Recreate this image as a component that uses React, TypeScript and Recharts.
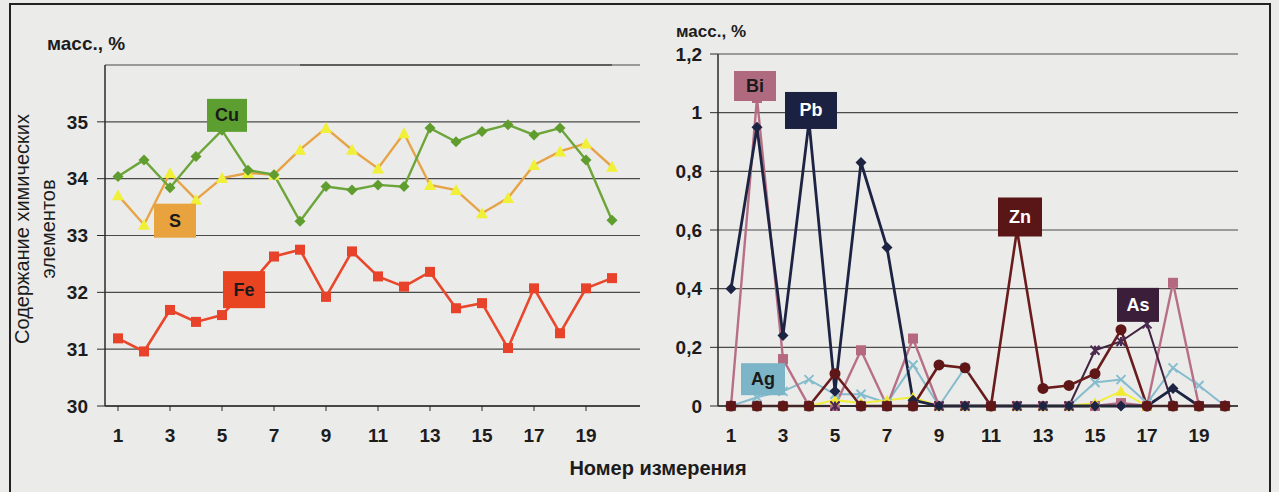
import React from "react";
import {
  LineChart,
  Line,
  XAxis,
  YAxis,
  CartesianGrid,
  ReferenceLine,
  LabelList,
} from "recharts";

const points = [1, 2, 3, 4, 5, 6, 7, 8, 9, 10, 11, 12, 13, 14, 15, 16, 17, 18, 19, 20];

// left chart, main elements, масс. %
const cu = [34.04, 34.33, 33.84, 34.39, 34.85, 34.15, 34.07, 33.25, 33.86, 33.8, 33.89, 33.86, 34.89, 34.65, 34.83, 34.95, 34.77, 34.89, 34.33, 33.27];
const s = [33.71, 33.19, 34.1, 33.63, 34.01, 34.1, 34.07, 34.51, 34.89, 34.51, 34.18, 34.8, 33.89, 33.8, 33.39, 33.66, 34.24, 34.48, 34.62, 34.21];
const fe = [31.19, 30.96, 31.69, 31.48, 31.6, 32.1, 32.63, 32.75, 31.92, 32.72, 32.28, 32.1, 32.36, 31.72, 31.81, 31.02, 32.07, 31.28, 32.07, 32.25];

// right chart, minor elements
const bi = [0, 1.05, 0.16, 0, 0, 0.19, 0, 0.23, 0, 0, 0, 0, 0, 0, 0, 0.01, 0, 0.42, 0, 0];
const pb = [0.4, 0.95, 0.24, 0.97, 0.05, 0.83, 0.54, 0.02, 0, 0, 0, 0, 0, 0, 0, 0, 0, 0.06, 0, 0];
const zn = [0, 0, 0, 0, 0.11, 0, 0, 0, 0.14, 0.13, 0, 0.6, 0.06, 0.07, 0.11, 0.26, 0, 0, 0, 0];
const as = [0, 0, 0, 0, 0, 0, 0, 0, 0, 0, 0, 0, 0, 0, 0.19, 0.22, 0.28, 0, 0, 0];
const ag = [0, 0.03, 0.05, 0.09, 0.04, 0.04, 0.01, 0.14, 0, 0.13, 0, 0, 0, 0, 0.08, 0.09, 0.01, 0.13, 0.07, 0];
const other = [0, 0, 0, 0, 0.02, 0.01, 0.02, 0.03, 0, 0, 0, 0, 0, 0, 0.01, 0.05, 0, 0, 0, 0];

const leftTicks = [30, 31, 32, 33, 34, 35];
const rightTicks = [0, 0.2, 0.4, 0.6, 0.8, 1, 1.2];

const leftData = points.map((n, i) => ({ n, Cu: cu[i], S: s[i], Fe: fe[i] }));
const rightData = points.map((n, i) => ({
  n,
  Bi: bi[i],
  Pb: pb[i],
  Zn: zn[i],
  As: as[i],
  Ag: ag[i],
  other: other[i],
}));

const FONT = "'Liberation Sans', Arial, sans-serif";
const AXIS = "#2b2b2b";
const GRID = "#4a4a4a";
const TEXT = "#1c1c1c";

const Marker = ({ cx, cy, shape, fill, stroke, size }: any) => {
  if (cx == null || cy == null) return null;
  const h = size / 2;
  if (shape === "diamond")
    return <polygon points={`${cx},${cy - h - 1} ${cx + h + 1},${cy} ${cx},${cy + h + 1} ${cx - h - 1},${cy}`} fill={fill} />;
  if (shape === "square") return <rect x={cx - h} y={cy - h} width={size} height={size} fill={fill} />;
  if (shape === "triangle")
    return <polygon points={`${cx},${cy - h - 1} ${cx + h + 1},${cy + h} ${cx - h - 1},${cy + h}`} fill={fill} />;
  if (shape === "circle") return <circle cx={cx} cy={cy} r={h} fill={fill} />;
  if (shape === "x")
    return (
      <g stroke={stroke} strokeWidth={2}>
        <line x1={cx - h} y1={cy - h} x2={cx + h} y2={cy + h} />
        <line x1={cx - h} y1={cy + h} x2={cx + h} y2={cy - h} />
      </g>
    );
  if (shape === "star")
    return (
      <g stroke={stroke} strokeWidth={2}>
        <line x1={cx - h} y1={cy - h} x2={cx + h} y2={cy + h} />
        <line x1={cx - h} y1={cy + h} x2={cx + h} y2={cy - h} />
        <line x1={cx} y1={cy - h} x2={cx} y2={cy + h} />
      </g>
    );
  return null;
};

const dotOf = (shape: string, fill: string, stroke: string, size: number) => (p: any) =>
  <Marker key={`m-${p.index}`} cx={p.cx} cy={p.cy} shape={shape} fill={fill} stroke={stroke} size={size} />;

// element tag box, attached to one point of its series
const tag = (text: string, at: number, dx: number, dy: number, w: number, h: number, bg: string, fg: string) =>
  (p: any) => {
    if (p.index !== at) return null;
    const cx = p.x + dx;
    const cy = p.y + dy;
    return (
      <g>
        <rect x={cx - w / 2} y={cy - h / 2} width={w} height={h} fill={bg} />
        <text x={cx} y={cy + 6} textAnchor="middle" fontFamily={FONT} fontWeight="bold" fontSize={18} fill={fg}>
          {text}
        </text>
      </g>
    );
  };

const tickStyle = { fontFamily: FONT, fontWeight: "bold" as const, fontSize: 19, fill: TEXT };

const App = () => {
  return (
    <div
      style={{
        position: "absolute",
        left: 0,
        top: 0,
        width: 1279,
        height: 492,
        background: "#ebebe9",
        overflow: "hidden",
        fontFamily: FONT,
      }}
    >
      <div
        style={{
          position: "absolute",
          left: 9,
          top: 3,
          width: 1262,
          height: 500,
          border: "2px solid #222",
          boxSizing: "border-box",
        }}
      />
      <div style={{ position: "absolute", left: 47, top: 33, fontSize: 19, fontWeight: "bold", color: TEXT }}>
        масс., %
      </div>
      <div style={{ position: "absolute", left: 676, top: 22, fontSize: 17, fontWeight: "bold", color: TEXT }}>
        масс., %
      </div>
      <div
        style={{
          position: "absolute",
          left: 35,
          top: 229,
          transform: "translate(-50%, -50%) rotate(-90deg)",
          fontSize: 20,
          lineHeight: "26px",
          textAlign: "center",
          whiteSpace: "nowrap",
          color: TEXT,
        }}
      >
        Содержание химических
        <br />
        элементов
      </div>
      <div
        style={{
          position: "absolute",
          left: 658,
          top: 457,
          transform: "translateX(-50%)",
          fontSize: 20,
          fontWeight: "bold",
          color: TEXT,
          whiteSpace: "nowrap",
        }}
      >
        Номер измерения
      </div>

      <div style={{ position: "absolute", left: 0, top: 0 }}>
        <LineChart width={640} height={460} data={leftData} margin={{ top: 65, right: 0, bottom: 24, left: 0 }}>
          <CartesianGrid vertical={false} stroke={GRID} strokeWidth={1.2} />
          <XAxis
            dataKey="n"
            interval={1}
            padding={{ left: 13, right: 28 }}
            tick={tickStyle}
            tickSize={5}
            tickMargin={18}
            stroke={AXIS}
            axisLine={{ stroke: AXIS, strokeWidth: 1.5 }}
          />
          <YAxis
            width={105}
            domain={[30, 36]}
            ticks={leftTicks}
            tick={tickStyle}
            tickSize={8}
            tickMargin={9}
            stroke={AXIS}
            axisLine={{ stroke: AXIS, strokeWidth: 1.5 }}
            allowDataOverflow
          />
          <ReferenceLine
            segment={[
              { x: 8, y: 36 },
              { x: 20, y: 36 },
            ]}
            stroke={GRID}
            strokeWidth={1.5}
          />
          <Line
            dataKey="Fe"
            stroke="#e8472c"
            strokeWidth={2.6}
            dot={dotOf("square", "#e8432a", "#e8432a", 10)}
            isAnimationActive={false}
          >
            <LabelList content={tag("Fe", 5, -4, 3, 42, 37, "#e84422", "#1a1a1a")} />
          </Line>
          <Line
            dataKey="S"
            stroke="#e6a447"
            strokeWidth={2.4}
            dot={dotOf("triangle", "#f1f038", "#f1f038", 10)}
            isAnimationActive={false}
          >
            <LabelList content={tag("S", 1, 31, -4, 42, 34, "#e8a33e", "#1a1a1a")} />
          </Line>
          <Line
            dataKey="Cu"
            stroke="#6ca53a"
            strokeWidth={2.4}
            dot={dotOf("diamond", "#5f9d2e", "#5f9d2e", 9)}
            isAnimationActive={false}
          >
            <LabelList content={tag("Cu", 4, 5, -15, 40, 33, "#5c9e30", "#1a1a1a")} />
          </Line>
        </LineChart>
      </div>

      <div style={{ position: "absolute", left: 640, top: 0 }}>
        <LineChart width={610} height={460} data={rightData} margin={{ top: 54, right: 12, bottom: 24, left: 0 }}>
          <CartesianGrid vertical={false} stroke={GRID} strokeWidth={1.2} />
          <XAxis
            dataKey="n"
            interval={1}
            padding={{ left: 13, right: 13 }}
            tick={tickStyle}
            tickSize={5}
            tickMargin={18}
            stroke={AXIS}
            axisLine={{ stroke: AXIS, strokeWidth: 1.5 }}
          />
          <YAxis
            width={78}
            domain={[0, 1.2]}
            ticks={rightTicks}
            tickFormatter={(v: number) => String(v).replace(".", ",")}
            tick={tickStyle}
            tickSize={8}
            tickMargin={8}
            stroke={AXIS}
            axisLine={{ stroke: AXIS, strokeWidth: 1.5 }}
          />
          <YAxis
            yAxisId="frame"
            orientation="right"
            width={0}
            domain={[0, 1.2]}
            tick={false}
            tickLine={false}
            axisLine={{ stroke: GRID, strokeWidth: 1.5 }}
          />
          <Line
            dataKey="Ag"
            stroke="#86bccd"
            strokeWidth={2}
            dot={dotOf("x", "#86bccd", "#86bccd", 9)}
            isAnimationActive={false}
          >
            <LabelList content={tag("Ag", 1, 6, -18, 44, 32, "#7db5c8", "#1a1a1a")} />
          </Line>
          <Line
            dataKey="Bi"
            stroke="#b76f86"
            strokeWidth={2.4}
            dot={dotOf("square", "#b5697f", "#b5697f", 10)}
            isAnimationActive={false}
          >
            <LabelList content={tag("Bi", 1, -2, -12, 42, 30, "#b06a80", "#1a1a1a")} />
          </Line>
          <Line
            dataKey="other"
            stroke="#f0ee3c"
            strokeWidth={2}
            dot={dotOf("triangle", "#f0ea30", "#f0ea30", 9)}
            isAnimationActive={false}
          />
          <Line
            dataKey="As"
            stroke="#3f2442"
            strokeWidth={2}
            dot={dotOf("star", "#4a2a50", "#4a2a50", 9)}
            isAnimationActive={false}
          >
            <LabelList content={tag("As", 16, -9, -19, 42, 34, "#3b1f3a", "#ffffff")} />
          </Line>
          <Line
            dataKey="Pb"
            stroke="#1d2443"
            strokeWidth={2.8}
            dot={dotOf("diamond", "#1d2443", "#1d2443", 9)}
            isAnimationActive={false}
          >
            <LabelList content={tag("Pb", 3, 2, -11, 52, 37, "#1b2140", "#ffffff")} />
          </Line>
          <Line
            dataKey="Zn"
            stroke="#6a1c1c"
            strokeWidth={2.6}
            dot={dotOf("circle", "#5e1616", "#5e1616", 11)}
            isAnimationActive={false}
          >
            <LabelList content={tag("Zn", 11, 3, -13, 44, 39, "#5a1616", "#ffffff")} />
          </Line>
        </LineChart>
      </div>
    </div>
  );
};

export default App;
